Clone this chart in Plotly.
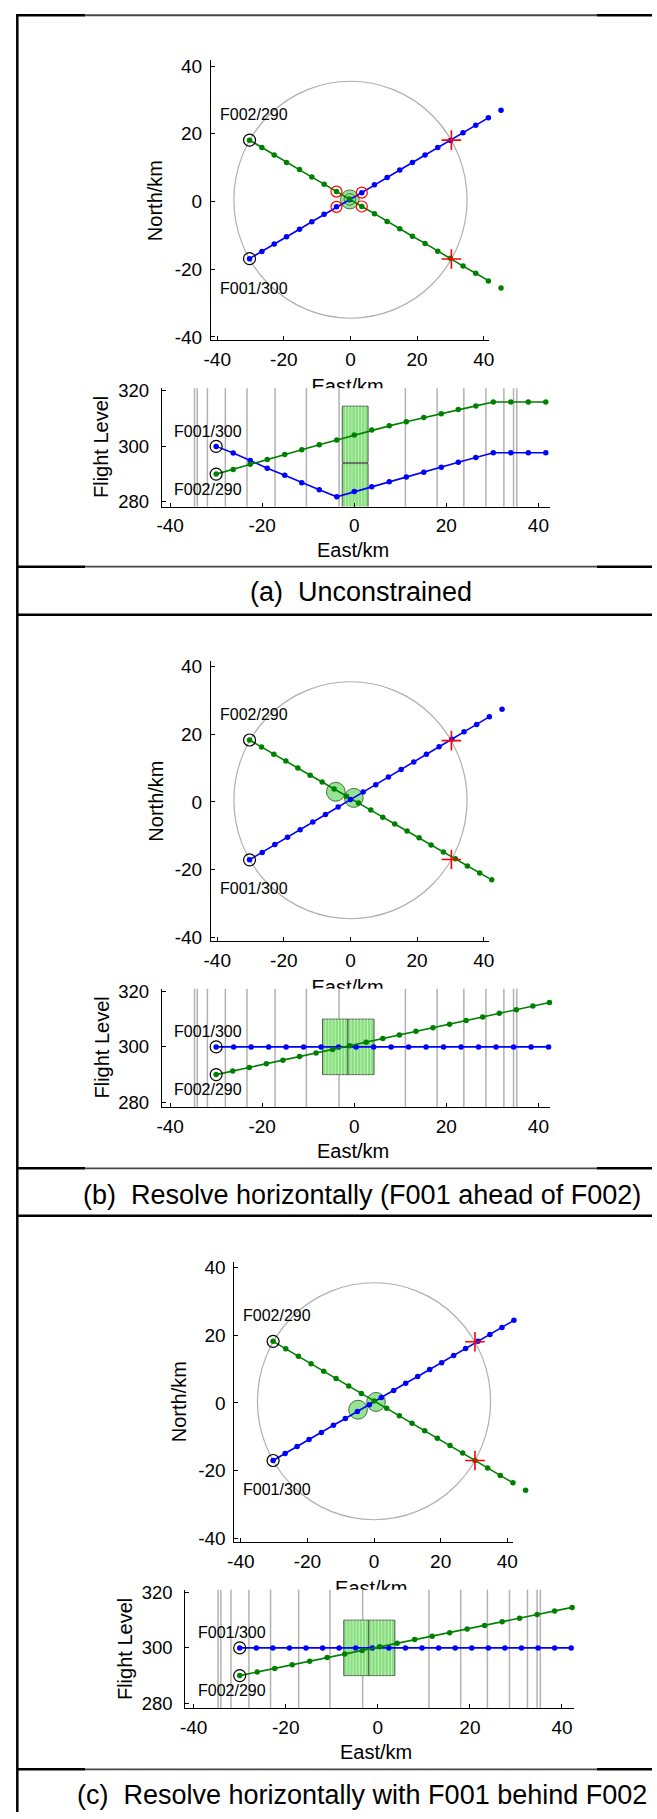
import plotly.graph_objects as go

# ---------------- data ----------------
TICK_KM = [-40, -20, 0, 20, 40]
TICK_KM_TEXT = ["-40", "-20", "0", "20", "40"]
TICK_FL = [280, 300, 320]
TICK_FL_TEXT = ["280", "300", "320"]

RANGE_CIRCLE = dict(cx=0.0, cy=0.5, r=35.0)
PLUS_X = [30.3, 30.3]
PLUS_Y = [18.1, -17.0]
VLINES = [-34.7, -34.1, -31.9, -28.0, -23.3, -17.2, -10.4, -3.3, 11.1, 18.0, 23.8, 28.6, 32.5, 34.6, 35.3]

# (a) Unconstrained
A_MAP_F001_X = [-30.3, -26.6, -22.9, -19.2, -15.3, -11.6, -7.9, -4.2, -0.3, 3.4, 7.2, 11.0, 14.8, 18.6, 22.4, 26.2, 30.0, 33.8, 37.6, 41.4, 45.2]
A_MAP_F001_Y = [-16.9, -14.8, -12.6, -10.4, -8.2, -6.0, -3.8, -1.6, 0.5, 2.6, 4.9, 7.1, 9.3, 11.5, 13.7, 15.9, 18.0, 20.3, 22.5, 24.7, 26.9]
A_MAP_F002_X = [-30.3, -26.6, -22.9, -19.2, -15.3, -11.6, -7.9, -4.2, -0.3, 3.4, 7.2, 11.0, 14.8, 18.6, 22.4, 26.2, 30.0, 33.8, 37.6, 41.4, 45.2]
A_MAP_F002_Y = [18.1, 15.9, 13.7, 11.5, 9.4, 7.2, 5.1, 2.9, 0.7, -1.5, -3.6, -5.9, -8.1, -10.3, -12.4, -14.7, -16.8, -19.1, -21.2, -23.5, -25.6]
A_CONF_X = [-4.2, 3.4, -4.2, 3.4]
A_CONF_Y = [-1.6, 2.6, 2.9, -1.5]
A_ELL_X = [-0.2, -0.2]
A_ELL_Y = [0.6, 0.6]
A_ELL_R = [2.8, 1.7]
A_PRO_F001_X = [-30.0, -26.3, -22.6, -18.9, -15.1, -11.4, -7.6, -3.8, 0.0, 3.8, 7.6, 11.3, 15.1, 18.9, 22.6, 26.4, 30.2, 34.0, 37.8, 41.6]
A_PRO_F001_FL = [300.0, 297.6, 294.9, 292.1, 289.6, 286.9, 284.4, 281.8, 283.7, 285.4, 287.2, 289.0, 290.7, 292.5, 294.3, 296.0, 297.7, 297.7, 297.7, 297.7]
A_PRO_F002_X = [-30.0, -26.3, -22.6, -18.9, -15.1, -11.4, -7.6, -3.8, 0.0, 3.8, 7.6, 11.3, 15.1, 18.9, 22.6, 26.4, 30.2, 34.0, 37.8, 41.6]
A_PRO_F002_FL = [290.0, 291.7, 293.6, 295.3, 297.1, 298.8, 300.6, 302.3, 304.1, 305.9, 307.4, 308.9, 310.4, 311.8, 313.3, 314.6, 316.0, 316.0, 316.0, 316.0]
A_BOX_X0 = [-2.6, -2.6]
A_BOX_X1 = [3.0, 3.0]
A_BOX_FL0 = [273.8, 294.2]
A_BOX_FL1 = [293.8, 314.5]

# (b) Resolve horizontally (F001 ahead of F002)
B_MAP_F001_X = [-30.3, -26.5, -22.7, -18.9, -15.1, -11.3, -7.5, -3.7, 0.0, 3.8, 7.6, 11.4, 15.2, 19.0, 22.8, 26.6, 30.4, 34.1, 37.9, 41.7, 45.5]
B_MAP_F001_Y = [-17.1, -14.9, -12.6, -10.4, -8.2, -5.9, -3.7, -1.5, 0.7, 2.9, 5.1, 7.4, 9.6, 11.8, 14.1, 16.3, 18.5, 20.7, 22.9, 25.2, 27.4]
B_MAP_F002_X = [-30.3, -26.7, -23.0, -19.4, -15.8, -12.1, -8.5, -4.9, -1.2, 2.4, 6.1, 9.7, 13.3, 17.0, 20.6, 24.2, 27.9, 31.5, 35.1, 38.8, 42.4]
B_MAP_F002_Y = [18.3, 16.2, 14.1, 12.1, 10.0, 7.9, 5.9, 3.8, 1.7, -0.3, -2.4, -4.5, -6.5, -8.6, -10.6, -12.7, -14.8, -16.8, -18.9, -21.0, -23.0]
B_ELL_X = [-4.4, 1.0]
B_ELL_Y = [3.0, 1.2]
B_ELL_R = [2.8, 2.8]
B_PRO_F001_X = [-30.0, -26.2, -22.4, -18.6, -14.8, -11.0, -7.2, -3.4, 0.4, 4.2, 8.0, 11.8, 15.6, 19.4, 23.2, 27.0, 30.8, 34.6, 38.4, 42.2]
B_PRO_F001_FL = [300.0, 300.0, 300.0, 300.0, 300.0, 300.0, 300.0, 300.0, 300.0, 300.0, 300.0, 300.0, 300.0, 300.0, 300.0, 300.0, 300.0, 300.0, 300.0, 300.0]
B_PRO_F002_X = [-30.0, -26.4, -22.8, -19.1, -15.5, -11.9, -8.3, -4.7, -1.0, 2.6, 6.2, 9.8, 13.4, 17.1, 20.7, 24.3, 27.9, 31.5, 35.2, 38.8, 42.4]
B_PRO_F002_FL = [290.0, 291.3, 292.6, 293.9, 295.2, 296.5, 297.8, 299.1, 300.4, 301.7, 303.0, 304.3, 305.6, 306.9, 308.2, 309.5, 310.8, 312.1, 313.4, 314.7, 316.0]
B_BOX_X0 = [-6.9, -1.4]
B_BOX_X1 = [-1.4, 4.3]
B_BOX_FL0 = [290.0, 290.0]
B_BOX_FL1 = [310.0, 310.0]

# (c) Resolve horizontally with F001 behind F002
C_MAP_F001_X = [-30.3, -26.7, -23.1, -19.5, -15.8, -12.2, -8.6, -5.0, -1.4, 2.2, 5.9, 9.5, 13.1, 16.7, 20.3, 23.9, 27.5, 31.2, 34.8, 38.4, 42.0]
C_MAP_F001_Y = [-17.0, -14.9, -12.9, -10.8, -8.7, -6.6, -4.6, -2.5, -0.5, 1.6, 3.7, 5.8, 7.8, 9.9, 11.9, 14.0, 16.1, 18.2, 20.2, 22.3, 24.4]
C_MAP_F002_X = [-30.3, -26.5, -22.7, -18.9, -15.1, -11.4, -7.6, -3.8, 0.0, 3.8, 7.6, 11.4, 15.2, 19.0, 22.8, 26.6, 30.3, 34.1, 37.9, 41.7, 45.5]
C_MAP_F002_Y = [18.2, 16.0, 13.8, 11.6, 9.4, 7.2, 5.0, 2.8, 0.6, -1.6, -3.8, -6.0, -8.2, -10.4, -12.6, -14.8, -17.0, -19.2, -21.4, -23.6, -25.8]
C_ELL_X = [-4.8, 0.6]
C_ELL_Y = [-2.0, 0.3]
C_ELL_R = [2.8, 2.8]
C_PRO_F001_X = [-30.0, -26.4, -22.8, -19.2, -15.6, -12.0, -8.4, -4.8, -1.2, 2.4, 6.0, 9.6, 13.2, 16.8, 20.4, 24.0, 27.6, 31.2, 34.8, 38.4, 42.0]
C_PRO_F001_FL = [300.0, 300.0, 300.0, 300.0, 300.0, 300.0, 300.0, 300.0, 300.0, 300.0, 300.0, 300.0, 300.0, 300.0, 300.0, 300.0, 300.0, 300.0, 300.0, 300.0, 300.0]
C_PRO_F002_X = [-30.0, -26.2, -22.4, -18.6, -14.8, -11.0, -7.2, -3.4, 0.4, 4.2, 8.0, 11.8, 15.6, 19.4, 23.2, 27.0, 30.8, 34.6, 38.4, 42.2]
C_PRO_F002_FL = [290.0, 291.3, 292.6, 293.9, 295.2, 296.5, 297.8, 299.1, 300.4, 301.7, 303.0, 304.2, 305.5, 306.8, 308.1, 309.4, 310.7, 312.0, 313.3, 314.6]
C_BOX_X0 = [-7.4, -2.0]
C_BOX_X1 = [-2.0, 3.7]
C_BOX_FL0 = [290.0, 290.0]
C_BOX_FL1 = [310.0, 310.0]

CAPTIONS = ["(a) \u00a0Unconstrained",
            "(b) \u00a0Resolve horizontally (F001 ahead of F002)",
            "(c) \u00a0Resolve horizontally with F001 behind F002"]
MAP_LABELS = ["F002/290", "F001/300"]
PRO_LABELS = ["F001/300", "F002/290"]

# ---------------- styling / layout ----------------
W, H = 657, 1819
FONT = "Liberation Sans, Arial, Helvetica, sans-serif"
BLUE = "rgb(0,0,255)"
GREEN = "rgb(0,128,0)"
RED = "rgb(255,0,0)"
MSIZE = 5.5
STRIPE_STEP_KM = 0.75

MAP_XPX = (207.7, 491.0)
MAP_YPX = (52.7, 335.0)
MAP_XR = [-41.9, 41.6]
MAP_YR = [-41.0, 41.7]
MAP_WIDE_XPX_END = 545.0
PRO_XPX = (157.7, 553.5)
PRO_YPX = (383.3, 502.7)
PRO_XR = [-41.8, 42.6]
PRO_YR = [278.3, 321.0]


def xd(p0, p1):
    return [p0 / W, p1 / W]


def yd(p0, p1):
    return [1 - p1 / H, 1 - p0 / H]


def px(x):
    return x / W


def py(y):
    return 1 - y / H


panels = [
    dict(dx=0, dy=0, m1x=A_MAP_F001_X, m1y=A_MAP_F001_Y, m2x=A_MAP_F002_X, m2y=A_MAP_F002_Y,
         ex=A_ELL_X, ey=A_ELL_Y, er=A_ELL_R, conf=(A_CONF_X, A_CONF_Y),
         p1x=A_PRO_F001_X, p1y=A_PRO_F001_FL, p2x=A_PRO_F002_X, p2y=A_PRO_F002_FL,
         bx0=A_BOX_X0, bx1=A_BOX_X1, by0=A_BOX_FL0, by1=A_BOX_FL1, cap=CAPTIONS[0], capx=361, capy=589.3),
    dict(dx=0, dy=605.5, m1x=B_MAP_F001_X, m1y=B_MAP_F001_Y, m2x=B_MAP_F002_X, m2y=B_MAP_F002_Y,
         ex=B_ELL_X, ey=B_ELL_Y, er=B_ELL_R, conf=None,
         p1x=B_PRO_F001_X, p1y=B_PRO_F001_FL, p2x=B_PRO_F002_X, p2y=B_PRO_F002_FL,
         bx0=B_BOX_X0, bx1=B_BOX_X1, by0=B_BOX_FL0, by1=B_BOX_FL1, cap=CAPTIONS[1], capx=362, capy=1196.7),
    dict(dx=24, dy=1211.5, m1x=C_MAP_F001_X, m1y=C_MAP_F001_Y, m2x=C_MAP_F002_X, m2y=C_MAP_F002_Y,
         ex=C_ELL_X, ey=C_ELL_Y, er=C_ELL_R, conf=None,
         p1x=C_PRO_F001_X, p1y=C_PRO_F001_FL, p2x=C_PRO_F002_X, p2y=C_PRO_F002_FL,
         bx0=C_BOX_X0, bx1=C_BOX_X1, by0=C_BOX_FL0, by1=C_BOX_FL1, cap=CAPTIONS[2], capx=361.3, capy=1801.7),
]

fig = go.Figure()
layout = dict(width=W, height=H, margin=dict(l=0, r=0, t=0, b=0), paper_bgcolor="white",
              plot_bgcolor="rgba(0,0,0,0)", showlegend=False, font=dict(family=FONT, color="black"))
shapes = []
annotations = []


def axis_common(**kw):
    d = dict(showline=True, linecolor="black", linewidth=1, ticks="inside", ticklen=4, tickwidth=1,
             tickcolor="black", showgrid=False, zeroline=False, fixedrange=True, mirror=False,
             tickfont=dict(family=FONT, size=19, color="black"), tickmode="array")
    d.update(kw)
    return d


def ax_name(k, letter):
    return f"{letter}axis" if k == 1 else f"{letter}axis{k}"


def ref(k, letter):
    return letter if k == 1 else f"{letter}{k}"


# scale of the map x axis, used for the wider invisible marker layer
map_scale = (MAP_XPX[1] - MAP_XPX[0]) / (MAP_XR[1] - MAP_XR[0])
wide_xr = [MAP_XR[0], MAP_XR[0] + (MAP_WIDE_XPX_END - MAP_XPX[0]) / map_scale]

for i, P in enumerate(panels):
    dx, dy = P["dx"], P["dy"]
    km, kp, kc, kw = 4 * i + 1, 4 * i + 2, 4 * i + 3, 4 * i + 4
    xm, ym = ref(km, "x"), ref(km, "y")
    xp, yp = ref(kp, "x"), ref(kp, "y")
    xc, yc = ref(kc, "x"), ref(kc, "y")
    xw, yw = ref(kw, "x"), ref(kw, "y")

    # ---- map axes ----
    layout[ax_name(km, "x")] = axis_common(domain=xd(MAP_XPX[0] + dx, MAP_XPX[1] + dx), range=MAP_XR, anchor=ym,
                                           tickvals=TICK_KM, ticktext=TICK_KM_TEXT, ticklabelstandoff=2)
    layout[ax_name(km, "y")] = axis_common(domain=yd(MAP_YPX[0] + dy, MAP_YPX[1] + dy), range=MAP_YR, anchor=xm,
                                           tickvals=TICK_KM, ticktext=TICK_KM_TEXT, ticklabelstandoff=4)
    # invisible, wider copy of the map frame (markers beyond the axis end stay visible)
    layout[ax_name(kw, "x")] = dict(domain=xd(MAP_XPX[0] + dx, MAP_WIDE_XPX_END + dx), range=wide_xr,
                                    visible=False, anchor=yw, fixedrange=True)
    layout[ax_name(kw, "y")] = dict(domain=yd(MAP_YPX[0] + dy, MAP_YPX[1] + dy), range=MAP_YR,
                                    visible=False, anchor=xw, fixedrange=True)
    # ---- profile axes ----
    layout[ax_name(kp, "x")] = axis_common(domain=xd(PRO_XPX[0] + dx, PRO_XPX[1] + dx), range=PRO_XR, anchor=yp,
                                           tickvals=TICK_KM, ticktext=TICK_KM_TEXT, ticklabelstandoff=2)
    layout[ax_name(kp, "y")] = axis_common(domain=yd(PRO_YPX[0] + dy, PRO_YPX[1] + dy), range=PRO_YR, anchor=xp,
                                           tickvals=TICK_FL, ticktext=TICK_FL_TEXT, ticklabelstandoff=8,
                                           tickfont=dict(family=FONT, size=18.5, color="black"))
    # ---- clip strip for the partially hidden map x-title ----
    layout[ax_name(kc, "x")] = dict(domain=xd(150 + dx, 560 + dx), range=[150 + dx, 560 + dx], visible=False,
                                    anchor=yc, fixedrange=True)
    layout[ax_name(kc, "y")] = dict(domain=yd(336 + dy, PRO_YPX[0] + dy), range=[PRO_YPX[0] + dy, 336 + dy],
                                    visible=False, anchor=xc, fixedrange=True)

    # range circle
    c = RANGE_CIRCLE
    shapes.append(dict(type="circle", xref=xm, yref=ym, x0=c["cx"] - c["r"], x1=c["cx"] + c["r"],
                       y0=c["cy"] - c["r"], y1=c["cy"] + c["r"], line=dict(color="rgb(175,175,175)", width=1.2),
                       layer="below"))
    # conflict ellipses
    for ex, ey, er in zip(P["ex"], P["ey"], P["er"]):
        shapes.append(dict(type="circle", xref=xm, yref=ym, x0=ex - er, x1=ex + er, y0=ey - er, y1=ey + er,
                           fillcolor="rgb(150,228,145)", line=dict(color="rgb(70,110,70)", width=1),
                           layer="below"))

    # map trajectories: lines clipped at the axis, markers in the wider frame
    for xs, ys, col in ((P["m1x"], P["m1y"], BLUE), (P["m2x"], P["m2y"], GREEN)):
        fig.add_trace(go.Scatter(x=xs, y=ys, mode="lines", xaxis=xm, yaxis=ym,
                                 line=dict(color=col, width=1.6), hoverinfo="skip"))
        fig.add_trace(go.Scatter(x=xs, y=ys, mode="markers", xaxis=xw, yaxis=yw, cliponaxis=False,
                                 marker=dict(color=col, size=MSIZE), hoverinfo="skip"))
    # start markers
    fig.add_trace(go.Scatter(x=[P["m1x"][0], P["m2x"][0]], y=[P["m1y"][0], P["m2y"][0]], mode="markers",
                             xaxis=xw, yaxis=yw, cliponaxis=False,
                             marker=dict(symbol="circle-open", size=12, color="black", line=dict(width=1.2)),
                             hoverinfo="skip"))
    # exit crosses
    fig.add_trace(go.Scatter(x=PLUS_X, y=PLUS_Y, mode="markers", xaxis=xw, yaxis=yw, cliponaxis=False,
                             marker=dict(symbol="cross-thin", size=14, color=RED, line=dict(width=1.6, color=RED)),
                             hoverinfo="skip"))
    if P["conf"] is not None:
        fig.add_trace(go.Scatter(x=P["conf"][0], y=P["conf"][1], mode="markers", xaxis=xw, yaxis=yw,
                                 marker=dict(symbol="circle-open", size=11, color=RED, line=dict(width=1.2)),
                                 hoverinfo="skip"))
    # map labels
    for txt, yy in zip(MAP_LABELS, [25.7, -25.6]):
        annotations.append(dict(text=txt, x=-39.9, y=yy, xref=xm, yref=ym, xanchor="left", yanchor="middle",
                                showarrow=False, font=dict(family=FONT, size=16, color="black")))
    # map axis titles
    annotations.append(dict(text="North/km", x=px(151.5 + dx), y=py(194 + dy), xref="paper", yref="paper",
                            textangle=-90, showarrow=False, xanchor="center", yanchor="middle",
                            font=dict(family=FONT, size=20, color="black")))
    fig.add_trace(go.Scatter(x=[347 + dx], y=[PRO_YPX[0] + dy], mode="text", text=["East/km"], xaxis=xc, yaxis=yc,
                             cliponaxis=True, textposition="middle center",
                             textfont=dict(family=FONT, size=20, color="black"), hoverinfo="skip"))

    # ---- profile ----
    for x0, x1, f0, f1 in zip(P["bx0"], P["bx1"], P["by0"], P["by1"]):
        shapes.append(dict(type="rect", xref=xp, yref=yp, x0=x0, x1=x1, y0=f0, y1=f1,
                           fillcolor="rgb(136,222,128)", line=dict(color="rgb(85,95,85)", width=1),
                           layer="below"))
        # light vertical hatching inside the protection box
        n = int((x1 - x0) / STRIPE_STEP_KM)
        for s in range(1, n + 1):
            xs_ = x0 + s * (x1 - x0) / (n + 1)
            shapes.append(dict(type="line", xref=xp, yref=yp, x0=xs_, x1=xs_, y0=f0, y1=f1,
                               line=dict(color="rgba(210,250,200,0.75)", width=1), layer="below"))
    for v in VLINES:
        shapes.append(dict(type="line", xref=xp, yref=f"{yp} domain", x0=v, x1=v, y0=0, y1=1,
                           line=dict(color="rgb(178,178,178)", width=1.5), layer="below"))
    for xs, ys, col in ((P["p1x"], P["p1y"], BLUE), (P["p2x"], P["p2y"], GREEN)):
        fig.add_trace(go.Scatter(x=xs, y=ys, mode="lines+markers", xaxis=xp, yaxis=yp, cliponaxis=False,
                                 line=dict(color=col, width=1.6), marker=dict(color=col, size=MSIZE),
                                 hoverinfo="skip"))
    fig.add_trace(go.Scatter(x=[P["p1x"][0], P["p2x"][0]], y=[P["p1y"][0], P["p2y"][0]], mode="markers",
                             xaxis=xp, yaxis=yp, cliponaxis=False,
                             marker=dict(symbol="circle-open", size=12, color="black", line=dict(width=1.2)),
                             hoverinfo="skip"))
    for txt, yy in zip(PRO_LABELS, [305.5, 284.6]):
        annotations.append(dict(text=txt, x=-39.6, y=yy, xref=xp, yref=yp, xanchor="left", yanchor="middle",
                                showarrow=False, font=dict(family=FONT, size=16, color="black")))
    annotations.append(dict(text="Flight Level", x=px(96.4 + dx), y=py(443 + dy), xref="paper", yref="paper",
                            textangle=-90, showarrow=False, xanchor="center", yanchor="middle",
                            font=dict(family=FONT, size=20, color="black")))
    annotations.append(dict(text="East/km", x=px(352 + dx), y=py(546.7 + dy), xref="paper", yref="paper",
                            showarrow=False, xanchor="center", yanchor="middle",
                            font=dict(family=FONT, size=20, color="black")))
    # caption
    annotations.append(dict(text=P["cap"], x=px(P["capx"]), y=py(P["capy"]), xref="paper", yref="paper",
                            showarrow=False, xanchor="center", yanchor="middle",
                            font=dict(family=FONT, size=27, color="black")))

# ---------------- table rules ----------------
def hline(y, x0, x1, color, width):
    shapes.append(dict(type="line", xref="paper", yref="paper", x0=px(x0), x1=px(x1), y0=py(y), y1=py(y),
                       line=dict(color=color, width=width), layer="above"))


shapes.append(dict(type="line", xref="paper", yref="paper", x0=px(10.5), x1=px(10.5), y0=py(6.0), y1=0,
                   line=dict(color="black", width=2.5), layer="above"))
for yline in [7.3, 563.3, 1170.0, 1776.0]:
    hline(yline, 10.5, 79.6, "black", 2.5)
    hline(yline, 601.0, 657.0, "black", 2.5)
    hline(yline, 79.6, 601.0, "rgb(70,70,70)", 1.8)
for yline in [611.7, 1217.7]:
    hline(yline, 10.5, 657.0, "black", 2.5)

layout["shapes"] = shapes
layout["annotations"] = annotations
fig.update_layout(**layout)
fig.write_html("out.html")
